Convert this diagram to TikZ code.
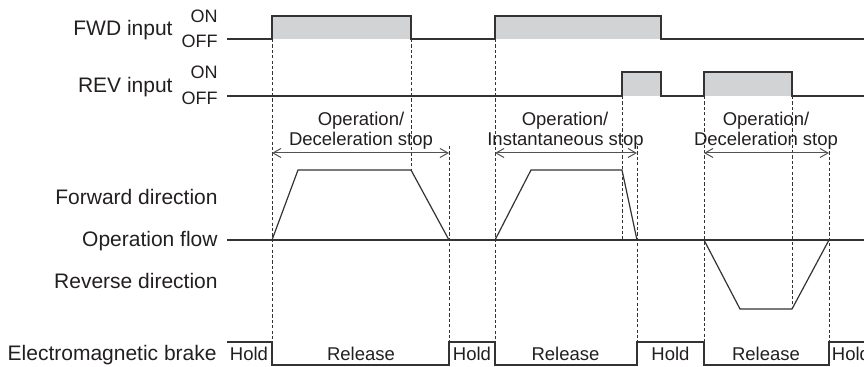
\documentclass[tikz,border=0pt]{standalone}
\usepackage{fontspec}
\setmainfont{Liberation Sans}
\usetikzlibrary{arrows.meta}
\definecolor{ink}{HTML}{333333}
\definecolor{txt}{HTML}{231F20}
\definecolor{onfill}{HTML}{D1D3D4}
\tikzset{
  sig/.style={draw=ink, line width=0.8pt, line join=miter},
  prof/.style={draw=ink, line width=0.6pt, line join=miter},
  guide/.style={draw=ink, line width=0.45pt, dash pattern=on 1.6pt off 1.1pt},
  span/.style={draw=ink!85, line width=0.5pt, {Straight Barb[length=4pt,width=4.5pt]}-{Straight Barb[length=4pt,width=4.5pt]}},
  biglbl/.style={inner sep=0pt, text=txt, font=\fontsize{10.5}{12}\selectfont},
  midlbl/.style={inner sep=0pt, text=txt, font=\fontsize{9.25}{11}\selectfont},
  onoff/.style={inner sep=0pt, text=txt, font=\fontsize{9}{11}\selectfont},
}
\begin{document}
\begin{tikzpicture}[x=0.5pt,y=-0.5pt]
\useasboundingbox (0,0) rectangle (864,367);
\clip (0,0) rectangle (864,367);

% left labels
\node[biglbl, anchor=base east] (fwd) at (173,36) {FWD input};
\node[onoff, anchor=base east] (fwdon) at (218,23) {ON};
\node[onoff, anchor=base east] (fwdoff) at (218,48) {OFF};
\node[biglbl, anchor=base east] (rev) at (173,93) {REV input};
\node[onoff, anchor=base east] (revon) at (218,79) {ON};
\node[onoff, anchor=base east] (revoff) at (218,105) {OFF};
\node[biglbl, anchor=base east] (fdir) at (218,205) {Forward direction};
\node[biglbl, anchor=base east] (oflow) at (218,247) {Operation flow};
\node[biglbl, anchor=base east] (rdir) at (218,289) {Reverse direction};
\node[biglbl, anchor=base east] (brake) at (217,361) {Electromagnetic brake};

% gray ON fills
\fill[onfill] (272,16) rectangle (411,39);
\fill[onfill] (495,16) rectangle (661,39);
\fill[onfill] (622,72) rectangle (661,96);
\fill[onfill] (704,72) rectangle (792,96);

% dashed guides
\draw[guide] (272,39) -- (272,342);
\draw[guide] (411,39) -- (411,170);
\draw[guide] (449,146) -- (449,342);
\draw[guide] (495,39) -- (495,342);
\draw[guide] (622,96) -- (622,240);
\draw[guide] (637,146) -- (637,342);
\draw[guide] (704,96) -- (704,342);
\draw[guide] (792,96) -- (792,309);
\draw[guide] (829,146) -- (829,342);

% FWD input waveform
\draw[sig] (227,39) -- (272,39) -- (272,16) -- (411,16) -- (411,39) -- (495,39)
  -- (495,16) -- (661,16) -- (661,39) -- (864,39);
% REV input waveform
\draw[sig] (227,96) -- (622,96) -- (622,72) -- (661,72) -- (661,96) -- (704,96)
  -- (704,72) -- (792,72) -- (792,96) -- (864,96);

% operation flow
\draw[sig] (227,240) -- (864,240);
\draw[prof] (272,240) -- (298,170) -- (411,170) -- (449,240);
\draw[prof] (495,240) -- (531,170) -- (622,170) -- (637,240);
\draw[prof] (704,240) -- (740,309) -- (792,309) -- (829,240);

% span arrows
\draw[span] (272,153) -- (449,153);
\draw[span] (495,153) -- (637,153);
\draw[span] (704,153) -- (829,153);

% span labels
\node[midlbl, anchor=base] (op1) at (361,125.5) {Operation/};
\node[midlbl, anchor=base] (ds1) at (361,145.5) {Deceleration stop};
\node[midlbl, anchor=base] (op2) at (565,125.5) {Operation/};
\node[midlbl, anchor=base] (is2) at (565.5,145.5) {Instantaneous stop};
\node[midlbl, anchor=base] (op3) at (766,125.5) {Operation/};
\node[midlbl, anchor=base] (ds3) at (766,145.5) {Deceleration stop};

% brake waveform
\draw[sig] (227,342) -- (272,342) -- (272,365) -- (449,365) -- (449,342) -- (495,342)
  -- (495,365) -- (637,365) -- (637,342) -- (704,342) -- (704,365) -- (829,365)
  -- (829,342) -- (864,342);
\node[midlbl, anchor=base] (h1) at (249,361) {Hold};
\node[midlbl, anchor=base] (r1) at (361,361) {Release};
\node[midlbl, anchor=base] (h2) at (472,361) {Hold};
\node[midlbl, anchor=base] (r2) at (565.5,361) {Release};
\node[midlbl, anchor=base] (h3) at (670.5,361) {Hold};
\node[midlbl, anchor=base] (r3) at (766,361) {Release};
\node[midlbl, anchor=base west] (h4) at (831.5,361) {Hold};
\end{tikzpicture}
\end{document}
